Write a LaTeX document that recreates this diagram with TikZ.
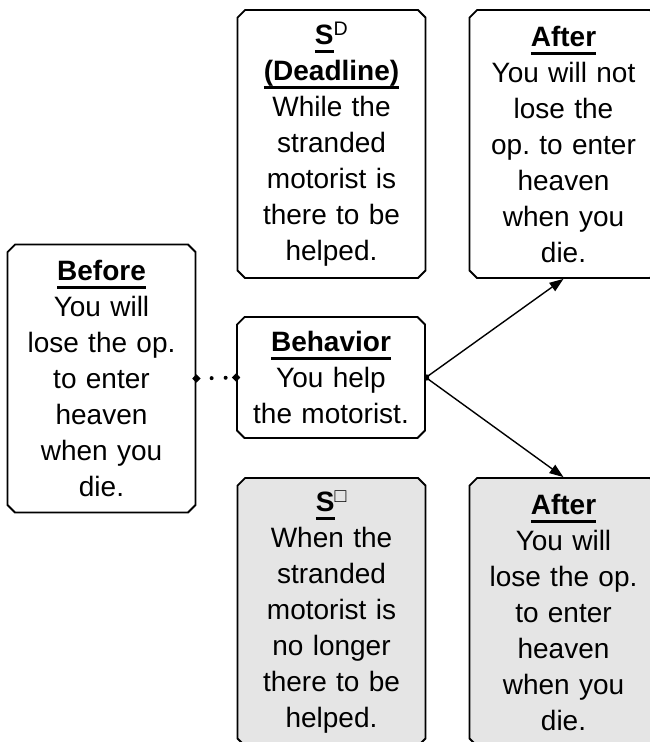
\documentclass[tikz,border=0pt]{standalone}
\usepackage{fontspec}
\setmainfont{Liberation Sans}
\usetikzlibrary{arrows.meta, shapes.misc}
\frenchspacing
\newcommand{\boxhead}[1]{\leavevmode\setbox0\hbox{\bfseries #1}\rlap{\usebox0}\rule[-8.5pt]{\wd0}{3pt}}
\tikzset{box/.style = {shape = chamfered rectangle, chamfered rectangle xsep = 4pt, draw, line width = 1.8pt, inner sep = 0pt, minimum width = 180pt, minimum height = 268pt, text width = 180pt, align = center, font = \fontsize{28}{36}\selectfont}}
\tikzset{shaded/.style = {fill = gray!20}}
\tikzset{edge/.style = {line width = 1.4pt, {Circle[length = 4pt]}-{Triangle[length = 14pt, width = 10pt]}}}
\tikzset{link/.style = {line width = 4pt, line cap = round, dash pattern = on 0pt off 14pt, dash phase = 0.5pt, shorten <= -3.5pt, shorten >= -3.5pt, {Circle[length = 7pt]}-{Circle[length = 7pt]}}}
\begin{document}
\begin{tikzpicture}[x = 1pt, y = -1pt]
				\useasboundingbox (0, 0) rectangle (650, 742);
				\clip (0, 0) rectangle (650, 742);

				\node[box] (before) at (101.5, 378.5) {\boxhead{Before}\\ You will\\ lose the op.\\ to enter\\ heaven\\ when you\\ die.};
				\node[box] (sd) at (331.5, 144) {\boxhead{S}\textsuperscript{D}\\ \boxhead{(Deadline)}\\ While the\\ stranded\\ motorist is\\ there to be\\ helped.};
				\node[box] (aftertop) at (563.5, 144) {\boxhead{After}\\ You will not\\ lose the\\ op. to enter\\ heaven\\ when you\\ die.};
				\node[box, minimum height = 121pt] (behavior) at (331, 377.5) {\boxhead{Behavior}\\ You help\\ the motorist.};
				\node[box, shaded] (sdelta) at (331.5, 612) {\boxhead{S}\textsuperscript{□}\\ When the\\ stranded\\ motorist is\\ no longer\\ there to be\\ helped.};
				\node[box, shaded] (afterbot) at (563.5, 612) {\boxhead{After}\\ You will\\ lose the op.\\ to enter\\ heaven\\ when you\\ die.};

				\draw[link] (before.east) -- (behavior.west);
				\draw[edge] (behavior.east) -- (aftertop.south);
				\draw[edge] (behavior.east) -- (afterbot.north);
			\end{tikzpicture}
\end{document}
